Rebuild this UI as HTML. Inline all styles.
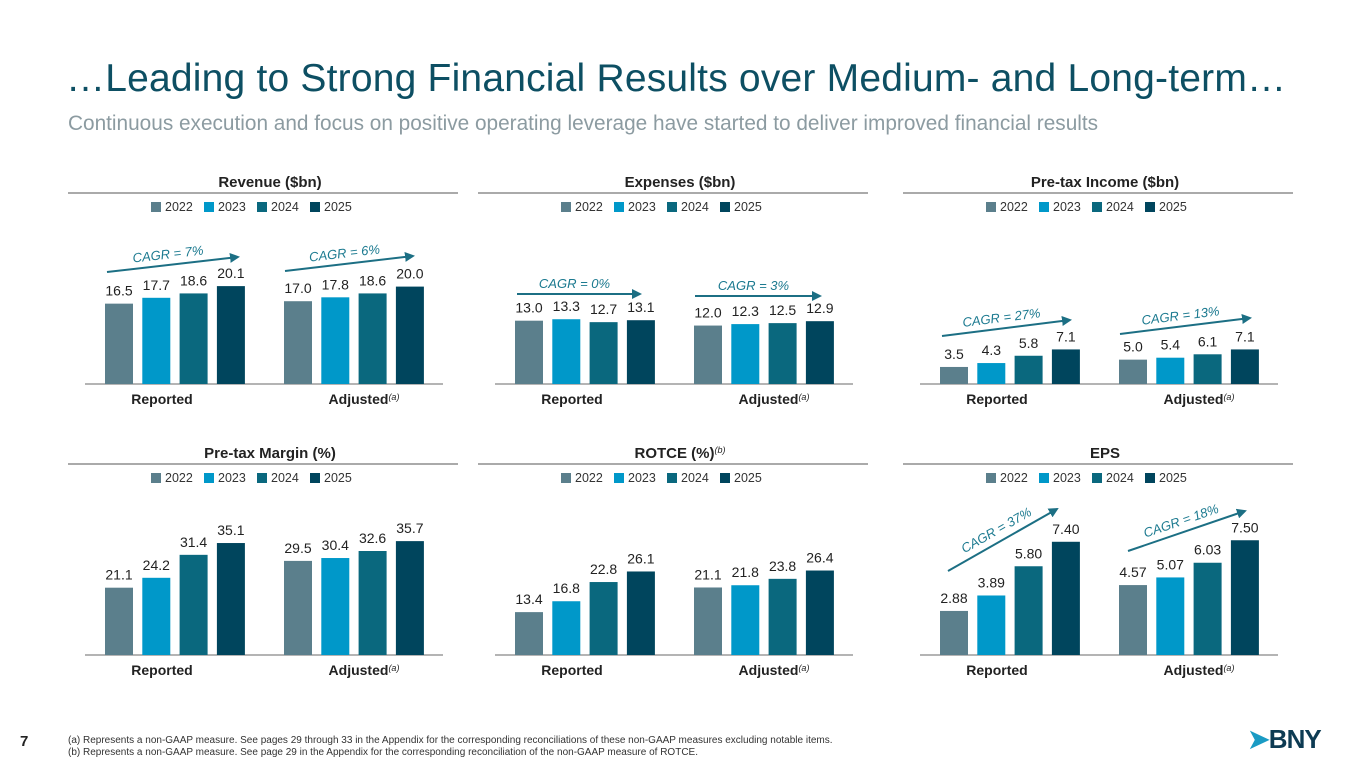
<!DOCTYPE html>
<html><head><meta charset="utf-8">
<style>
body{margin:0;width:1365px;height:768px;background:#fff;overflow:hidden;font-family:"Liberation Sans",sans-serif;position:relative}
#title{position:absolute;left:66px;top:57px;font-size:39px;color:#0d4f63;letter-spacing:0.2px}
#sub{position:absolute;left:68px;top:112px;font-size:20.8px;color:#8c9ba1}
#foot{position:absolute;left:68px;top:735px;font-size:10px;color:#333;line-height:12px}
#pg{position:absolute;left:20px;top:733px;font-size:15px;font-weight:bold;color:#222}
#logo{position:absolute;left:1248px;top:724px;font-size:26px;font-weight:bold;color:#0d3b53;letter-spacing:-1px}
#logo span{color:#1a9bc4}
svg{position:absolute;left:0;top:0}
</style></head><body>
<div id="title">…Leading to Strong Financial Results over Medium- and Long-term…</div>
<div id="sub">Continuous execution and focus on positive operating leverage have started to deliver improved financial results</div>
<svg id="chart" width="1365" height="768"></svg>
<div id="pg">7</div>
<div id="foot">(a) Represents a non-GAAP measure. See pages 29 through 33 in the Appendix for the corresponding reconciliations of these non-GAAP measures excluding notable items.<br>(b) Represents a non-GAAP measure. See page 29 in the Appendix for the corresponding reconciliation of the non-GAAP measure of ROTCE.</div>
<div id="logo"><span>➤</span>BNY</div>
<script>
const years=["2022","2023","2024","2025"];
const groups=["Reported","Adjusted"];
const revenueReported=[16.5,17.7,18.6,20.1];
const revenueAdjusted=[17.0,17.8,18.6,20.0];
const expensesReported=[13.0,13.3,12.7,13.1];
const expensesAdjusted=[12.0,12.3,12.5,12.9];
const pretaxReported=[3.5,4.3,5.8,7.1];
const pretaxAdjusted=[5.0,5.4,6.1,7.1];
const marginReported=[21.1,24.2,31.4,35.1];
const marginAdjusted=[29.5,30.4,32.6,35.7];
const rotceReported=[13.4,16.8,22.8,26.1];
const rotceAdjusted=[21.1,21.8,23.8,26.4];
const epsReported=[2.88,3.89,5.80,7.40];
const epsAdjusted=[4.57,5.07,6.03,7.50];
const cagrLabels=[["7%","6%"],["0%","3%"],["27%","13%"],null,null,["37%","18%"]];
const colors=["#5b7f8c","#0098c9","#0a687e","#00455d"];
const NS="http://www.w3.org/2000/svg";
const svg=document.getElementById('chart');
function el(t,a,txt){const e=document.createElementNS(NS,t);for(const k in a)e.setAttribute(k,a[k]);if(txt!==undefined)e.textContent=txt;svg.appendChild(e);return e;}
el('defs',{}).innerHTML='<marker id="ah" viewBox="0 0 10 10" refX="8" refY="5" markerWidth="5" markerHeight="5" orient="auto"><path d="M0,0L10,5L0,10z" fill="#1c6f84"/></marker>';
const panels=[
 {t:"Revenue ($bn)",x:0,row:0,d:[revenueReported,revenueAdjusted],s:4.87,dec:1,arr:[[107,272,238,257],[285,271,413,256]]},
 {t:"Expenses ($bn)",x:410,row:0,d:[expensesReported,expensesAdjusted],s:4.87,dec:1,arr:[[517,294,640,294],[695,296,820,296]]},
 {t:"Pre-tax Income ($bn)",x:835,row:0,d:[pretaxReported,pretaxAdjusted],s:4.87,dec:1,arr:[[942,336,1070,320],[1120,334,1250,318]]},
 {t:"Pre-tax Margin (%)",x:0,row:1,d:[marginReported,marginAdjusted],s:3.19,dec:1},
 {t:"ROTCE (%)",sup:"(b)",x:410,row:1,d:[rotceReported,rotceAdjusted],s:3.2,dec:1},
 {t:"EPS",x:835,row:1,d:[epsReported,epsAdjusted],s:15.3,dec:2,arr:[[948,571,1057,509],[1128,551,1245,511]]}
];
panels.forEach((p,pi)=>{
 const dy=p.row?271:0, base=384+dy, cx=270+p.x;
 const t=el('text',{x:cx,y:187+dy,'text-anchor':'middle','font-size':15,'font-weight':'bold',fill:'#222'},p.t);
 
 if(p.sup){const s=document.createElementNS(NS,'tspan');s.setAttribute('font-size',9);s.setAttribute('font-style','italic');s.setAttribute('font-weight','normal');s.setAttribute('dy',-5);s.textContent=p.sup;t.appendChild(s);}
 el('line',{x1:68+p.x,x2:458+p.x,y1:193+dy,y2:193+dy,stroke:'#777','stroke-width':1.2});
 years.forEach((y,i)=>{const lx=151+p.x+i*53;
  const r=el('rect',{x:lx,y:202+dy,width:10,height:10,fill:colors[i]});
  
  const lt=el('text',{x:lx+14,y:211+dy,'font-size':12.5,fill:'#333'},y);
  });
 el('line',{x1:85+p.x,x2:443+p.x,y1:base,y2:base,stroke:'#888','stroke-width':1.2});
 p.d.forEach((vals,g)=>{
  const gx=105+p.x+g*179;
  vals.forEach((v,i)=>{const h=v*p.s,bx=gx+i*37.3;
   const b=el('rect',{x:bx,y:base-h,width:28,height:h,fill:colors[i]});
   
   const vl=el('text',{x:bx+14,y:base-h-8,'text-anchor':'middle','font-size':14,fill:'#222'},v.toFixed(p.dec));
   });
  const c=el('text',{x:gx+(g?80:57),y:base+20,'text-anchor':'middle','font-size':14,'font-weight':'bold',fill:'#222'},groups[g]);
  
  if(g){const s=document.createElementNS(NS,'tspan');s.setAttribute('font-size',9);s.setAttribute('font-style','italic');s.setAttribute('font-weight','normal');s.setAttribute('dy',-4);s.textContent='(a)';c.appendChild(s);}
  if(p.arr&&cagrLabels[pi]){const [x1,y1,x2,y2]=p.arr[g];
   const a=el('line',{x1,y1,x2,y2,stroke:'#1c6f84','stroke-width':2,'marker-end':'url(#ah)'});
   
   const ang=Math.atan2(y2-y1,x2-x1)*180/Math.PI,mx=(x1+x2)/2-4,my=(y1+y2)/2-6;
   const ct=el('text',{x:mx,y:my,'text-anchor':'middle','font-size':13,'font-style':'italic',fill:'#1c7a90',transform:`rotate(${ang} ${mx} ${my})`},'CAGR = '+cagrLabels[pi][g]);
   }
 });
});
</script>
</body></html>
